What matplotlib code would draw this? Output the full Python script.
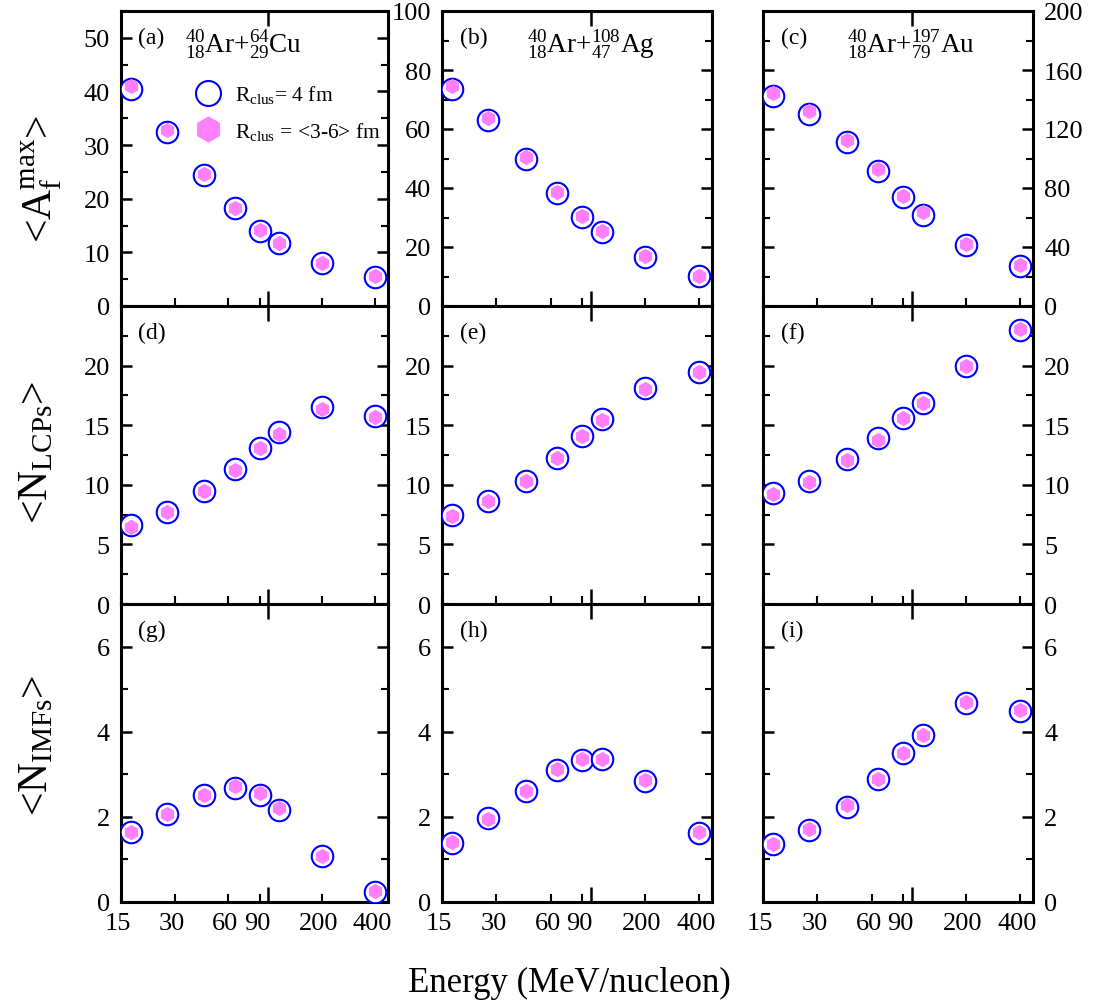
import matplotlib
matplotlib.use('Agg')
import matplotlib.pyplot as plt
import matplotlib.transforms as mtransforms
from matplotlib.lines import Line2D
from matplotlib.ticker import FixedLocator, MultipleLocator, NullFormatter

plt.rcParams['font.family'] = ['Liberation Serif', 'DejaVu Serif']
plt.rcParams['mathtext.fontset'] = 'custom'
plt.rcParams['mathtext.rm'] = 'Liberation Serif'
plt.rcParams['mathtext.it'] = 'Liberation Serif:italic'
plt.rcParams['mathtext.bf'] = 'Liberation Serif:bold'

## Data
energy = [17, 27, 44, 65, 90, 115, 200, 400]

# <A_f^max>, R_clus = 4 fm (circles) and <3-6> fm (hexagons)
afmax_cu_r4 = [40.5, 32.5, 24.4, 18.2, 14.0, 11.7, 8.0, 5.5]
afmax_cu_r36 = [41.0, 32.9, 24.7, 18.3, 14.2, 11.8, 8.1, 5.6]
afmax_ag_r4 = [73.6, 62.9, 49.8, 38.2, 30.3, 25.1, 16.5, 10.1]
afmax_ag_r36 = [74.7, 63.8, 50.6, 38.8, 30.6, 25.3, 16.9, 10.3]
afmax_au_r4 = [142.3, 130.0, 111.2, 91.5, 74.2, 62.0, 41.3, 26.8]
afmax_au_r36 = [144.1, 132.1, 112.8, 93.1, 74.9, 63.6, 42.0, 27.7]

# <N_LCPs>
nlcp_cu_r4 = [6.66, 7.75, 9.52, 11.3, 13.1, 14.4, 16.5, 15.8]
nlcp_cu_r36 = [6.5, 7.7, 9.45, 11.25, 13.1, 14.25, 16.35, 15.7]
nlcp_ag_r4 = [7.43, 8.68, 10.35, 12.28, 14.1, 15.5, 18.1, 19.5]
nlcp_ag_r36 = [7.37, 8.65, 10.35, 12.28, 14.1, 15.4, 18.0, 19.45]
nlcp_au_r4 = [9.3, 10.3, 12.2, 13.9, 15.6, 16.9, 20.0, 23.0]
nlcp_au_r36 = [9.2, 10.2, 12.1, 13.8, 15.6, 16.9, 20.0, 23.1]

# <N_IMFs>
nimf_cu_r4 = [1.65, 2.06, 2.52, 2.68, 2.52, 2.16, 1.07, 0.24]
nimf_cu_r36 = [1.64, 2.07, 2.52, 2.72, 2.55, 2.2, 1.09, 0.26]
nimf_ag_r4 = [1.39, 1.98, 2.61, 3.11, 3.33, 3.36, 2.85, 1.62]
nimf_ag_r36 = [1.41, 1.96, 2.61, 3.12, 3.36, 3.37, 2.87, 1.65]
nimf_au_r4 = [1.36, 1.69, 2.22, 2.88, 3.5, 3.92, 4.67, 4.49]
nimf_au_r36 = [1.37, 1.71, 2.27, 2.9, 3.51, 3.92, 4.69, 4.5]

xtick_vals = [15, 30, 60, 90, 200, 400]
xtick_labels = ['15', '30', '60', '90', '200', '400']

reactions = [r'${}^{40}_{18}$Ar+${}^{64}_{29}$Cu',
             r'${}^{40}_{18}$Ar+${}^{108}_{47}$Ag',
             r'${}^{40}_{18}$Ar+${}^{197}_{79}$Au']
panel_letters = ['(a)', '(b)', '(c)', '(d)', '(e)', '(f)', '(g)', '(h)', '(i)']
row_labels = [r'<A$_\mathrm{f}^\mathrm{max}$>', r'<N$_\mathrm{LCPs}$>', r'<N$_\mathrm{IMFs}$>']
legend_labels = [r'R$_\mathrm{clus}$= 4 fm', r'R$_\mathrm{clus}$ = <3-6> fm']

series = [
    [(afmax_cu_r4, afmax_cu_r36), (afmax_ag_r4, afmax_ag_r36), (afmax_au_r4, afmax_au_r36)],
    [(nlcp_cu_r4, nlcp_cu_r36), (nlcp_ag_r4, nlcp_ag_r36), (nlcp_au_r4, nlcp_au_r36)],
    [(nimf_cu_r4, nimf_cu_r36), (nimf_ag_r4, nimf_ag_r36), (nimf_au_r4, nimf_au_r36)],
]

# (ymax, major, minor) per panel
yscales = [
    [(55, 10, 5), (100, 20, 10), (200, 40, 20)],
    [(25, 5, 2.5), (25, 5, 2.5), (25, 5, 2.5)],
    [(7, 2, 1), (7, 2, 1), (7, 2, 1)],
]

circle_color = '#0000FF'
hex_color = '#FF80FF'

W, H = 1097, 1004
fig = plt.figure(figsize=(W / 100, H / 100), dpi=100)

col_left = [121, 442, 763]
col_width = [267, 270, 270]
row_top = [12, 307, 605]
row_height = [295, 298, 298]

label_shift = mtransforms.ScaledTranslation(-3 / 100, 0, fig.dpi_scale_trans)

for r in range(3):
    for c in range(3):
        ax = fig.add_axes([col_left[c] / W, 1 - (row_top[r] + row_height[r]) / H,
                           col_width[c] / W, row_height[r] / H])
        r4, r36 = series[r][c]
        ax.plot(energy, r4, 'o', ms=15.5, mfc='white', mec=circle_color, mew=1.5, zorder=3)
        ax.plot(energy, r36, 'h', ms=11, color=hex_color, mec=hex_color, mew=0, zorder=4)

        ax.set_xscale('log')
        ax.set_xlim(15, 470)
        ymax, major, minor = yscales[r][c]
        ax.set_ylim(0, ymax)

        ## x ticks: labelled ones plus the longer decade tick at 100
        ax.xaxis.set_major_locator(FixedLocator(xtick_vals))
        ax.set_xticklabels(xtick_labels if r == 2 else [])
        ax.xaxis.set_minor_locator(FixedLocator([100]))
        ax.xaxis.set_minor_formatter(NullFormatter())
        ax.tick_params(axis='x', which='major', direction='in', length=6, width=1.5,
                       top=False, bottom=True, labelsize=19, pad=7)
        ax.tick_params(axis='x', which='minor', direction='in', length=11, width=1.8,
                       top=True, bottom=True)
        for lab in ax.get_xticklabels():
            lab.set_transform(lab.get_transform() + label_shift)

        ## y ticks
        ticks = [v for v in range(0, int(ymax) + 1, major) if v < ymax]
        if r == 0 and c > 0:
            ticks = list(range(0, int(ymax) + 1, major))
        ax.yaxis.set_major_locator(FixedLocator(ticks))
        ax.yaxis.set_minor_locator(MultipleLocator(minor))
        ax.tick_params(axis='y', which='major', direction='in', length=8, width=1.8,
                       left=True, right=True, labelsize=19, pad=8)
        ax.tick_params(axis='y', which='minor', direction='in', length=5, width=1.5,
                       left=True, right=True)
        if c == 2:
            ax.tick_params(axis='y', labelleft=False, labelright=True)

        for sp in ax.spines.values():
            sp.set_linewidth(2.2)

        ax.text(0.065, 0.91, panel_letters[3 * r + c], transform=ax.transAxes,
                fontsize=17, va='center', ha='left')

        if r == 0:
            tx = [0.24, 0.315, 0.31][c]
            ax.text(tx, 0.86, reactions[c], transform=ax.transAxes,
                    fontsize=19.5, va='baseline', ha='left')

        if r == 0 and c == 0:
            handles = [Line2D([], [], ls='none', marker='o', ms=18, mfc='white',
                              mec=circle_color, mew=1.5),
                       Line2D([], [], ls='none', marker='h', ms=19, color=hex_color, mew=0)]
            ax.legend(handles, legend_labels, loc='upper left', bbox_to_anchor=(0.264, 0.755),
                      frameon=False, fontsize=15.5, borderpad=0, borderaxespad=0,
                      handlelength=1.5, handletextpad=0.5, labelspacing=0.68)

## row labels and the common x label
row_label_x = [42, 37, 37]
row_label_y = [179, 452, 745]
for r in range(3):
    fig.text(row_label_x[r] / W, 1 - row_label_y[r] / H, row_labels[r], rotation=90,
             fontsize=30, ha='center', va='center')

fig.text(569 / W, 1 - 983 / H, 'Energy (MeV/nucleon)', fontsize=25, ha='center', va='center')

fig.savefig('out.png', dpi=100)
